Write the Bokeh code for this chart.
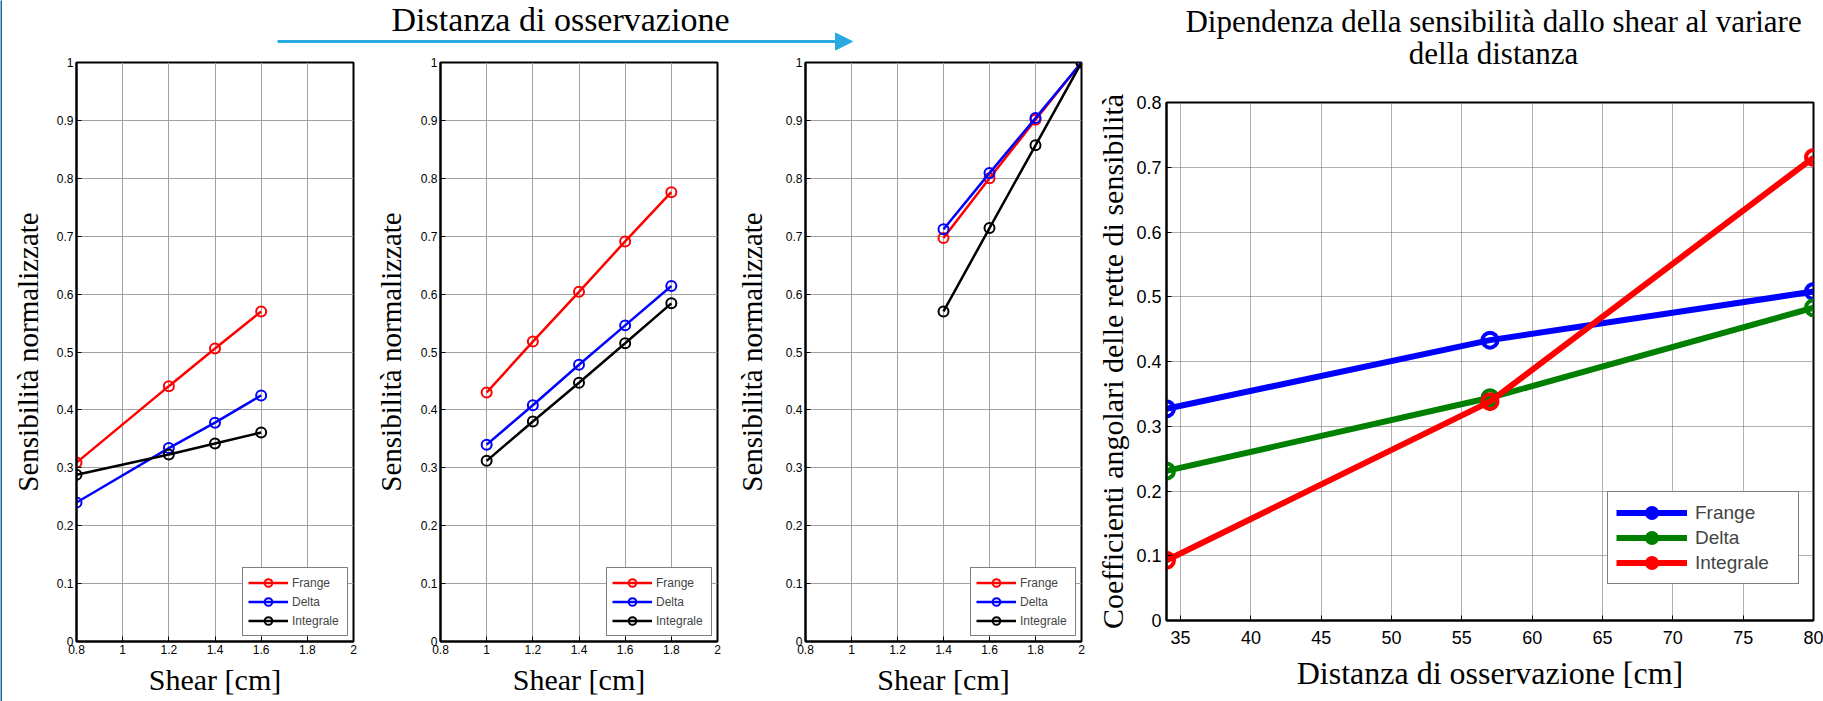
from bokeh.plotting import figure
from bokeh.layouts import row, column
from bokeh.models import (Range1d, FixedTicker, CustomJSTickFormatter, Label, Arrow, NormalHead)
from bokeh.embed import file_html
from bokeh.resources import INLINE

SERIF = "Liberation Serif"
SANS = "Liberation Sans"

# ---------------- data ----------------
shear1 = [0.8, 1.2, 1.4, 1.6]
frange1 = [0.309, 0.441, 0.506, 0.570]
delta1 = [0.240, 0.334, 0.378, 0.425]
integrale1 = [0.288, 0.323, 0.342, 0.361]

shear2 = [1.0, 1.2, 1.4, 1.6, 1.8]
frange2 = [0.430, 0.518, 0.604, 0.691, 0.776]
delta2 = [0.340, 0.408, 0.478, 0.546, 0.614]
integrale2 = [0.312, 0.380, 0.447, 0.515, 0.584]

shear3 = [1.4, 1.6, 1.8, 2.0]
frange3 = [0.697, 0.800, 0.901, 1.0]
delta3 = [0.712, 0.809, 0.904, 1.0]
integrale3 = [0.570, 0.714, 0.857, 1.0]

distanza = [34, 57, 80]
coef_frange = [0.327, 0.433, 0.508]
coef_delta = [0.231, 0.344, 0.483]
coef_integrale = [0.093, 0.338, 0.715]

shear_ticks = [0.8, 1.0, 1.2, 1.4, 1.6, 1.8, 2.0]
sens_ticks = [0.0, 0.1, 0.2, 0.3, 0.4, 0.5, 0.6, 0.7, 0.8, 0.9, 1.0]
dist_ticks = [35, 40, 45, 50, 55, 60, 65, 70, 75, 80]
coef_ticks = [0.0, 0.1, 0.2, 0.3, 0.4, 0.5, 0.6, 0.7, 0.8]

series_small = ["Frange", "Delta", "Integrale"]
colors_small = ["#ff0000", "#0000ff", "#000000"]
series_big = ["Frange", "Delta", "Integrale"]
colors_big = ["#0000ff", "#008000", "#ff0000"]

title_top = "Distanza di osservazione"
title_right = ["Dipendenza della sensibilità dallo shear al variare", "della distanza"]

FMT = "return String(Math.round(tick*10)/10);"


def style_axis(ax, font_px, standoff):
    ax.axis_line_color = "black"
    ax.axis_line_width = 2
    ax.major_tick_in = 5
    ax.major_tick_out = 0
    ax.major_tick_line_color = "black"
    ax.minor_tick_line_color = None
    ax.major_label_text_font = SANS
    ax.major_label_text_font_size = f"{font_px}px"
    ax.major_label_text_color = "black"
    ax.major_label_standoff = standoff
    ax.axis_label_text_font = SERIF
    ax.axis_label_text_font_style = "normal"
    ax.axis_label_text_color = "black"
    ax.formatter = CustomJSTickFormatter(code=FMT)


def small_panel(width, bl, br, lab_standoff, x, ys):
    p = figure(width=width, height=649, x_range=Range1d(0.8, 2.0), y_range=Range1d(0, 1),
               output_backend="svg", toolbar_location=None,
               min_border_left=bl, min_border_right=br, min_border_top=10, min_border_bottom=60)
    p.background_fill_color = "white"
    p.border_fill_color = "white"
    p.outline_line_color = "black"
    p.outline_line_width = 2
    p.xaxis.ticker = FixedTicker(ticks=shear_ticks)
    p.yaxis.ticker = FixedTicker(ticks=sens_ticks)
    style_axis(p.xaxis[0], 12, 3)
    style_axis(p.yaxis[0], 12, 3)
    p.xaxis.axis_label = "Shear [cm]"
    p.xaxis.axis_label_text_font_size = "30px"
    p.xaxis.axis_label_standoff = 6
    p.yaxis.axis_label = "Sensibilità normalizzate"
    p.yaxis.axis_label_text_font_size = "29px"
    p.yaxis.axis_label_standoff = lab_standoff
    p.grid.grid_line_color = "#a0a0a0"
    p.grid.grid_line_width = 1
    for name, col, y in zip(series_small, colors_small, ys):
        p.line(x, y, line_color=col, line_width=2.5, legend_label=name)
        p.scatter(x, y, marker="circle", size=10, line_color=col, line_width=2,
                  fill_color=None, legend_label=name)
    lg = p.legend[0]
    lg.location = "bottom_right"
    lg.margin = 5
    lg.padding = 5
    lg.spacing = 0
    lg.glyph_width = 40
    lg.glyph_height = 19
    lg.label_height = 19
    lg.label_width = 50
    lg.label_standoff = 4
    lg.label_text_font = SANS
    lg.label_text_font_size = "12px"
    lg.border_line_color = "black"
    lg.border_line_width = 1
    lg.background_fill_color = "white"
    lg.background_fill_alpha = 1
    return p


# left page edge stripe
edge = figure(width=2, height=701, x_range=Range1d(0, 1), y_range=Range1d(0, 1),
              output_backend="svg", toolbar_location=None, min_border=0,
              x_axis_type=None, y_axis_type=None)
edge.background_fill_color = "#1f6a98"
edge.border_fill_color = "#1f6a98"
edge.outline_line_color = None
edge.grid.visible = False

p1 = small_panel(368, 74, 17, 10, shear1, [frange1, delta1, integrale1])
p2 = small_panel(362, 70, 15, 11, shear2, [frange2, delta2, integrale2])
p3 = small_panel(361, 72, 12, 15, shear3, [frange3, delta3, integrale3])

# ---------------- right panel ----------------
p4 = figure(width=730, height=613, x_range=Range1d(34, 80), y_range=Range1d(0, 0.8),
            output_backend="svg", toolbar_location=None,
            min_border_left=69, min_border_right=10, min_border_top=14, min_border_bottom=81)
p4.background_fill_color = "white"
p4.border_fill_color = "white"
p4.outline_line_color = "black"
p4.outline_line_width = 2
p4.xaxis.ticker = FixedTicker(ticks=dist_ticks)
p4.yaxis.ticker = FixedTicker(ticks=coef_ticks)
style_axis(p4.xaxis[0], 18, 10)
style_axis(p4.yaxis[0], 18, 5)
p4.xaxis.axis_label = "Distanza di osservazione [cm]"
p4.xaxis.axis_label_text_font_size = "32px"
p4.xaxis.axis_label_standoff = 8
p4.yaxis.axis_label = "Coefficienti angolari delle rette di sensibilità"
p4.yaxis.axis_label_text_font_size = "30px"
p4.yaxis.axis_label_standoff = 4
p4.grid.grid_line_color = "#606060"
p4.grid.grid_line_width = 1
p4.grid.grid_line_dash = "1 1"
for name, col, y in zip(series_big, colors_big, [coef_frange, coef_delta, coef_integrale]):
    p4.line(distanza, y, line_color=col, line_width=6, legend_label=name)
    p4.scatter(distanza, y, marker="circle", size=15, line_color=col, line_width=4,
               fill_color=None, legend_label=name)
lg4 = p4.legend[0]
lg4.location = (441, 36)
lg4.margin = 0
lg4.padding = 8
lg4.spacing = 0
lg4.glyph_width = 71
lg4.glyph_height = 25
lg4.label_height = 25
lg4.label_width = 95
lg4.label_standoff = 8
lg4.label_text_font = SANS
lg4.label_text_font_size = "19px"
lg4.border_line_color = "black"
lg4.border_line_width = 1.5
lg4.background_fill_color = "white"
lg4.background_fill_alpha = 1

# ---------------- header strips ----------------
strip = figure(width=1091, height=52, x_range=Range1d(2, 1093), y_range=Range1d(52, 0),
               output_backend="svg", toolbar_location=None, min_border=0,
               x_axis_type=None, y_axis_type=None)
strip.outline_line_color = None
strip.grid.visible = False
arrow_col = "#29abe2"
strip.add_layout(Arrow(end=NormalHead(size=17, fill_color=arrow_col, line_color=arrow_col),
                       x_start=277, y_start=41, x_end=852, y_end=41,
                       line_color=arrow_col, line_width=3))
strip.add_layout(Label(x=560, y=19, text=title_top, text_font=SERIF, text_font_size="34px",
                       text_align="center", text_baseline="middle", text_color="black"))

strip4 = figure(width=730, height=88, x_range=Range1d(1093, 1823), y_range=Range1d(88, 0),
                output_backend="svg", toolbar_location=None, min_border=0,
                x_axis_type=None, y_axis_type=None)
strip4.outline_line_color = None
strip4.grid.visible = False
for i, t in enumerate(title_right):
    strip4.add_layout(Label(x=1462, y=21 + 32 * i, text=t, text_font=SERIF,
                            text_font_size="31px", text_align="center",
                            text_baseline="middle", text_color="black"))

layout = row(edge, column(strip, row(p1, p2, p3)), column(strip4, p4))

open("out.html", "w").write(file_html(layout, INLINE))
